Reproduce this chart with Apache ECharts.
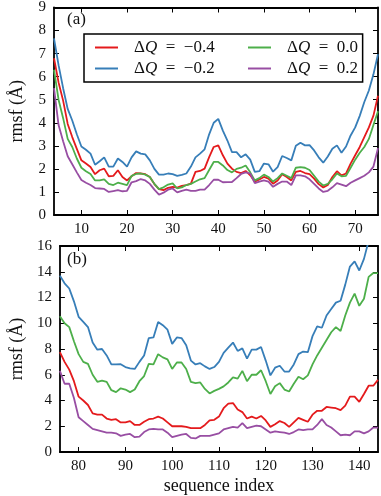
<!DOCTYPE html>
<html>
<head>
<meta charset="utf-8">
<script src="https://cdn.jsdelivr.net/npm/echarts@6/dist/echarts.min.js"></script>
<style>
  html, body { margin: 0; padding: 0; background: #fff; }
  #chart { width: 381px; height: 496px; }
</style>
</head>
<body>
<div id="chart"></div>
<script>
// panel (a): residues 4-75
const seqA = [4, 5, 6, 7, 8, 9, 10, 11, 12, 13, 14, 15, 16, 17, 18, 19, 20, 21, 22, 23,
  24, 25, 26, 27, 28, 29, 30, 31, 32, 33, 34, 35, 36, 37, 38, 39, 40, 41, 42, 43,
  44, 45, 46, 47, 48, 49, 50, 51, 52, 53, 54, 55, 56, 57, 58, 59, 60, 61, 62, 63,
  64, 65, 66, 67, 68, 69, 70, 71, 72, 73, 74, 75]
const redA = [6.8, 5.75, 4.96, 3.95, 3.38, 2.87, 2.37, 2.23, 2.08, 1.77,
  1.94, 2.01, 1.68, 1.7, 1.94, 1.65, 1.5, 1.68, 1.82, 1.8,
  1.77, 1.65, 1.34, 1.12, 1.08, 1.18, 1.22, 1.19, 1.26, 1.3,
  1.36, 1.87, 1.91, 2.01, 2.51, 2.95, 3.02, 2.59, 2.23, 2.01,
  1.87, 1.82, 1.91, 1.72, 1.44, 1.54, 1.65, 1.58, 1.36, 1.5,
  1.77, 1.65, 1.5, 1.87, 1.91, 1.82, 1.77, 1.58, 1.34, 1.19,
  1.3, 1.65, 1.9, 1.72, 1.8, 2.23, 2.59, 2.95, 3.38, 3.8,
  4.31, 5.17]
const blueA = [7.66, 6.5, 5.5, 4.6, 4.1, 3.5, 2.97, 2.83, 2.66, 2.18,
  2.33, 2.5, 2.1, 2.1, 2.45, 2.3, 2.1, 2.5, 2.76, 2.66,
  2.63, 2.37, 2.0, 1.75, 1.75, 1.8, 1.77, 1.7, 1.74, 1.8,
  2.1, 2.5, 2.66, 2.85, 3.5, 4.0, 4.17, 3.66, 3.23, 2.73,
  2.73, 2.5, 2.63, 2.4, 1.87, 1.9, 2.23, 2.2, 1.88, 2.08,
  2.56, 2.47, 2.37, 3.0, 3.13, 3.02, 3.03, 2.8, 2.5, 2.27,
  2.54, 2.87, 3.02, 2.7, 2.97, 3.45, 3.8, 4.3, 4.9, 5.4,
  6.1, 6.97]
const greenA = [6.3, 5.0, 4.2, 3.3, 2.95, 2.45, 2.05, 1.9, 1.78, 1.5,
  1.5, 1.55, 1.35, 1.3, 1.4, 1.35, 1.3, 1.7, 1.78, 1.8,
  1.75, 1.65, 1.35, 1.12, 1.2, 1.32, 1.37, 1.15, 1.2, 1.3,
  1.35, 1.45, 1.55, 1.6, 1.95, 2.3, 2.3, 2.15, 1.95, 1.85,
  2.0, 2.05, 2.15, 1.85, 1.5, 1.6, 1.75, 1.65, 1.45, 1.6,
  1.8, 1.7, 1.6, 2.05, 2.08, 2.05, 1.95, 1.7, 1.45, 1.28,
  1.35, 1.55, 1.8, 1.68, 1.7, 2.05, 2.4, 2.7, 2.95, 3.3,
  3.9, 4.5]
const purpleA = [5.5, 3.9, 3.2, 2.55, 2.2, 1.85, 1.52, 1.4, 1.3, 1.17,
  1.15, 1.13, 1.0, 1.04, 1.08, 1.03, 1.05, 1.42, 1.47, 1.56,
  1.5, 1.35, 1.1, 0.88, 0.97, 1.1, 1.15, 0.98, 1.05, 1.1,
  1.05, 1.05, 1.1, 1.1, 1.3, 1.53, 1.53, 1.42, 1.43, 1.43,
  1.6, 1.78, 1.85, 1.8, 1.38, 1.45, 1.5, 1.45, 1.22, 1.35,
  1.45, 1.45, 1.3, 1.72, 1.72, 1.68, 1.55, 1.35, 1.15, 1.0,
  1.05, 1.2, 1.38, 1.32, 1.25, 1.4, 1.5, 1.6, 1.7, 1.85,
  2.1, 2.9]

// panel (b): residues 76-144
const seqB = [76, 77, 78, 79, 80, 81, 82, 83, 84, 85, 86, 87, 88, 89, 90, 91, 92, 93, 94, 95,
  96, 97, 98, 99, 100, 101, 102, 103, 104, 105, 106, 107, 108, 109, 110, 111, 112, 113, 114, 115,
  116, 117, 118, 119, 120, 121, 122, 123, 124, 125, 126, 127, 128, 129, 130, 131, 132, 133, 134, 135,
  136, 137, 138, 139, 140, 141, 142, 143, 144]
const redB = [7.75, 7.0, 6.4, 5.5, 4.3, 4.0, 3.65, 3.0, 2.9, 2.9,
  2.6, 2.5, 2.55, 2.3, 2.3, 2.4, 2.1, 2.1, 2.35, 2.55,
  2.6, 2.75, 2.6, 2.3, 2.0, 2.0, 2.0, 1.95, 1.85, 1.85,
  1.85, 2.1, 2.45, 2.5, 2.75, 3.4, 3.75, 3.8, 3.3, 3.1,
  2.6, 2.75, 2.6, 2.8, 2.45, 1.95, 2.15, 2.4, 2.25, 1.95,
  2.3, 2.65, 2.5, 2.35, 2.9, 3.2, 3.2, 3.5, 3.45, 3.4,
  3.25, 3.6, 4.3, 4.3, 3.9, 4.5, 5.15, 5.15, 5.6]
const blueB = [13.7, 13.1, 12.7, 11.7, 10.5, 10.1, 9.7, 8.5, 7.95, 8.0,
  7.5, 6.8, 6.8, 6.82, 6.6, 6.5, 6.45, 7.0, 7.5, 8.85,
  8.9, 10.1, 9.85, 9.5, 8.4, 8.9, 8.85, 8.3, 7.1, 6.8,
  6.9, 6.65, 6.45, 6.6, 7.0, 7.7, 8.1, 8.5, 7.85, 8.05,
  7.25, 7.95, 7.95, 8.15, 7.1, 5.95, 6.55, 6.7, 6.25, 6.25,
  6.8, 7.6, 7.8, 7.75, 9.0, 9.75, 9.65, 10.6, 11.1, 11.6,
  11.75, 13.0, 14.4, 14.8, 14.1, 15.0, 16.4, 17.5, 18.5]
const greenB = [10.55, 10.0, 9.7, 8.6, 7.6, 7.0, 6.85, 6.0, 5.45, 5.55,
  5.45, 4.8, 4.65, 4.95, 4.85, 4.65, 4.85, 5.5, 5.9, 6.85,
  6.8, 7.6, 7.35, 7.2, 6.45, 6.95, 6.95, 6.45, 5.45, 5.35,
  5.4, 4.9, 4.55, 4.75, 4.9, 5.1, 5.4, 5.8, 5.7, 6.3,
  5.5, 6.0, 6.0, 6.35, 5.5, 4.5, 5.1, 5.35, 4.85, 4.7,
  5.3, 5.85, 5.65, 5.95, 6.8, 7.5, 8.1, 8.7, 9.3, 9.7,
  9.4, 10.6, 11.6, 12.3, 11.35, 11.9, 13.6, 13.9, 13.9]
const purpleB = [6.3, 5.3, 5.3, 4.2, 2.7, 2.4, 2.1, 1.8, 1.7, 1.6,
  1.5, 1.5, 1.45, 1.25, 1.35, 1.4, 1.15, 1.2, 1.55, 1.75,
  1.8, 1.75, 1.75, 1.5, 1.15, 1.25, 1.35, 1.4, 1.1, 1.05,
  1.25, 1.25, 1.25, 1.35, 1.45, 1.75, 1.85, 1.95, 1.9, 2.25,
  1.85, 1.95, 2.05, 2.0, 1.75, 1.5, 1.6, 1.55, 1.5, 1.4,
  1.55, 1.75, 1.7, 1.75, 1.75, 2.1, 2.55, 2.1, 1.9, 1.6,
  1.3, 1.35, 1.3, 1.6, 1.6, 1.45, 1.6, 1.9, 1.9]

const ticksXA = [10, 20, 30, 40, 50, 60, 70]
const ticksXB = [80, 90, 100, 110, 120, 130, 140]
const names = ['ΔQ = −0.4', 'ΔQ = −0.2', 'ΔQ = 0.0', 'ΔQ = 0.2']
const colors = ['#e41a1c', '#377eb8', '#4daf4a', '#984ea3']

const font = 'Liberation Serif'
const ink = '#111'
const zip = (xs, ys) => xs.map((x, i) => [x, ys[i]])

function xAxis (grid, min, max, ticks, top, name) {
  return {
    type: 'value',
    gridIndex: grid,
    min: min,
    max: max,
    position: top ? 'top' : 'bottom',
    name: name || '',
    nameLocation: 'middle',
    nameGap: 25,
    nameTextStyle: { fontFamily: font, fontSize: 18, color: ink },
    splitLine: { show: false },
    axisLine: { show: true, onZero: false, lineStyle: { color: '#000', width: 1.8 } },
    axisTick: { show: true, inside: true, length: 5, customValues: ticks, lineStyle: { color: '#000', width: 1 } },
    axisLabel: { show: !top, customValues: ticks, margin: 7, fontFamily: font, fontSize: 15, color: ink }
  }
}

function yAxis (grid, max, right) {
  return {
    type: 'value',
    gridIndex: grid,
    min: 0,
    max: max,
    interval: max > 10 ? 2 : 1,
    position: right ? 'right' : 'left',
    name: right ? '' : 'rmsf (Å)',
    nameLocation: 'middle',
    nameGap: 28,
    nameTextStyle: { fontFamily: font, fontSize: 18, color: ink },
    splitLine: { show: false },
    axisLine: { show: true, onZero: false, lineStyle: { color: '#000', width: 1.8 } },
    axisTick: { show: true, inside: true, length: 5, lineStyle: { color: '#000', width: 1 } },
    axisLabel: { show: !right, margin: 8, fontFamily: font, fontSize: 15, color: ink }
  }
}

function line (name, color, data, grid) {
  return {
    name: name,
    type: 'line',
    xAxisIndex: grid * 2,
    yAxisIndex: grid * 2,
    data: data,
    symbol: 'none',
    clip: true,
    lineStyle: { color: color, width: 1.8 },
    itemStyle: { color: color }
  }
}

const legendText = {
  fontFamily: font,
  fontSize: 17,
  color: ink,
  lineHeight: 17,
  padding: [0, 0, 0, 11],
  rich: {
    q: { fontFamily: font, fontSize: 17, fontStyle: 'italic', color: ink }
  }
}
// wider spacing round "=" like the TeX legend
const fmt = (name) => {
  const v = name.split(' = ')[1]
  return 'Δ{q|Q}\u2002=\u2002' + v
}

const option = {
  animation: false,
  backgroundColor: '#fff',
  title: [
    { text: '(a)', left: 67, top: 11, padding: 0, textStyle: { fontFamily: font, fontSize: 17, fontWeight: 'normal', color: ink } },
    { text: '(b)', left: 67, top: 251, padding: 0, textStyle: { fontFamily: font, fontSize: 17, fontWeight: 'normal', color: ink } }
  ],
  legend: [
    {
      data: [names[0], names[1]],
      orient: 'vertical',
      left: 84,
      top: 34,
      padding: [5, 148, 5, 11],
      itemGap: 4,
      itemWidth: 23,
      itemHeight: 2,
      icon: 'rect',
      backgroundColor: '#fff',
      borderColor: '#000',
      borderWidth: 1.5,
      borderRadius: 0,
      textStyle: Object.assign({ width: 79 }, legendText),
      formatter: fmt
    },
    {
      data: [names[2], names[3]],
      orient: 'vertical',
      left: 248,
      top: 39,
      padding: 0,
      z: 6,
      itemGap: 4,
      itemWidth: 23,
      itemHeight: 2,
      icon: 'rect',
      textStyle: legendText,
      formatter: fmt
    }
  ],
  grid: [
    { left: 53, right: 3, top: 6, height: 209 },
    { left: 53, right: 3, top: 246, height: 209 }
  ],
  xAxis: [
    xAxis(0, 4, 75, ticksXA, false),
    xAxis(0, 4, 75, ticksXA, true),
    xAxis(1, 76, 144, ticksXB, false, 'sequence index'),
    xAxis(1, 76, 144, ticksXB, true)
  ],
  yAxis: [
    yAxis(0, 9, false),
    yAxis(0, 9, true),
    yAxis(1, 16, false),
    yAxis(1, 16, true)
  ],
  series: [
    line(names[0], colors[0], zip(seqA, redA), 0),
    line(names[1], colors[1], zip(seqA, blueA), 0),
    line(names[2], colors[2], zip(seqA, greenA), 0),
    line(names[3], colors[3], zip(seqA, purpleA), 0),
    line(names[0], colors[0], zip(seqB, redB), 1),
    line(names[1], colors[1], zip(seqB, blueB), 1),
    line(names[2], colors[2], zip(seqB, greenB), 1),
    line(names[3], colors[3], zip(seqB, purpleB), 1)
  ]
}

const myChart = echarts.init(document.getElementById('chart'))
myChart.setOption(option)
</script>
</body>
</html>
